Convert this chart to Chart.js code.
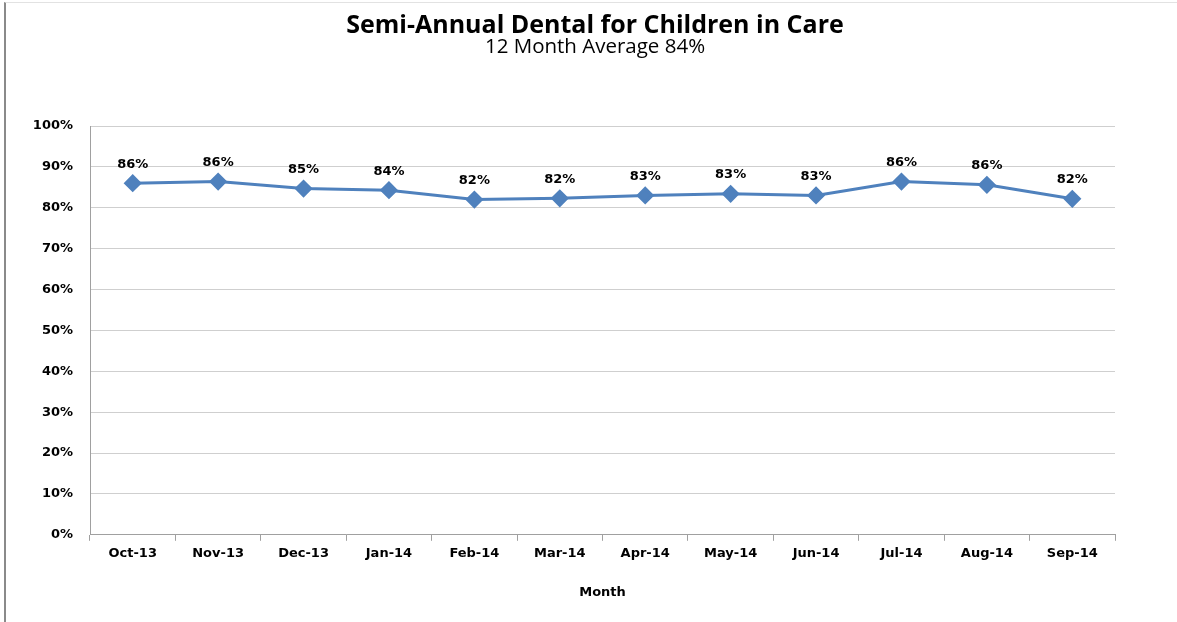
<!DOCTYPE html>
<html>
<head>
<meta charset="utf-8">
<script src="https://cdn.jsdelivr.net/npm/chart.js@4/dist/chart.umd.min.js"></script>
<style>
  html, body { margin: 0; padding: 0; background: #fff; }
  #wrap { position: relative; width: 1177px; height: 622px; overflow: hidden; }
  #frame { position: absolute; left: 4px; top: 2px; width: 1173px; height: 620px;
           border-left: 2px solid #8a8a8a; border-top: 1px solid #e2e2e2; box-sizing: border-box; }
  #c { position: absolute; left: 0; top: 0; }
</style>
</head>
<body>
<div id="wrap">
  <div id="frame"></div>
  <canvas id="c" width="1177" height="622"></canvas>
</div>
<script>
const meses = ['Oct-13','Nov-13','Dec-13','Jan-14','Feb-14','Mar-14','Apr-14','May-14','Jun-14','Jul-14','Aug-14','Sep-14'];
const dental = [86.0, 86.4, 84.7, 84.3, 82.0, 82.3, 83.0, 83.4, 83.0, 86.4, 85.6, 82.2];
const yTicks = [0, 10, 20, 30, 40, 50, 60, 70, 80, 90, 100];
const titulo = 'Semi-Annual Dental for Children in Care';
const subtitulo = '12 Month Average 84%';

const azul = '#4F81BD';
const fonte = "'DejaVu Sans', Verdana, sans-serif";

// titulo e subtitulo desenhados a mao (o centro nao bate com a area do grafico)
const cabecalho = {
  id: 'cabecalho',
  afterDraw(chart) {
    const ctx = chart.ctx;
    ctx.save();
    ctx.fillStyle = '#000';
    ctx.textAlign = 'center';
    ctx.textBaseline = 'middle';
    ctx.font = "bold 25px 'Open Sans', sans-serif";
    ctx.fillText(titulo, 595, 26);
    ctx.font = "20.5px 'Open Sans', sans-serif";
    ctx.fillText(subtitulo, 595, 47);
    ctx.restore();
  }
};

// rotulos de valor acima de cada ponto
const rotulos = {
  id: 'rotulos',
  afterDatasetsDraw(chart) {
    const ctx = chart.ctx;
    const meta = chart.getDatasetMeta(0);
    ctx.save();
    ctx.font = 'bold 13px ' + fonte;
    ctx.fillStyle = '#000';
    ctx.textAlign = 'center';
    ctx.textBaseline = 'middle';
    meta.data.forEach((pt, i) => {
      ctx.fillText(Math.round(dental[i]) + '%', pt.x, pt.y - 19);
    });
    ctx.restore();
  }
};

new Chart(document.getElementById('c'), {
  type: 'line',
  data: {
    labels: meses,
    datasets: [{
      label: 'Semi-Annual Dental',
      data: dental,
      borderColor: azul,
      backgroundColor: azul,
      borderWidth: 3,
      pointStyle: 'rectRot',
      pointRadius: 7,
      pointHoverRadius: 7,
      pointBackgroundColor: azul,
      pointBorderColor: azul,
      tension: 0
    }]
  },
  options: {
    responsive: false,
    animation: false,
    layout: { padding: { left: 0, right: 62, top: 126, bottom: 22 } },
    plugins: {
      legend: { display: false },
      tooltip: { enabled: false },
      title: { display: false }
    },
    scales: {
      x: {
        offset: true,
        grid: {
          offset: true,
          drawOnChartArea: false,
          drawTicks: true,
          tickLength: 6,
          color: '#a0a0a0'
        },
        border: { color: '#a0a0a0' },
        ticks: {
          color: '#000',
          padding: 5,
          maxRotation: 0,
          font: { family: fonte, size: 13, weight: 'bold' }
        },
        title: {
          display: true,
          text: 'Month',
          color: '#000',
          font: { family: fonte, size: 13, weight: 'bold' },
          padding: { top: 18, bottom: 0 }
        }
      },
      y: {
        min: 0,
        max: 100,
        afterFit(scale) { scale.width = 90; },
        afterBuildTicks(scale) { scale.ticks = yTicks.map(v => ({ value: v })); },
        grid: { color: '#cfcfcf', drawTicks: false },
        border: { color: '#a0a0a0' },
        ticks: {
          color: '#000',
          padding: 17,
          font: { family: fonte, size: 13, weight: 'bold' },
          callback: v => v + '%'
        }
      }
    }
  },
  plugins: [rotulos, cabecalho]
});
</script>
</body>
</html>
